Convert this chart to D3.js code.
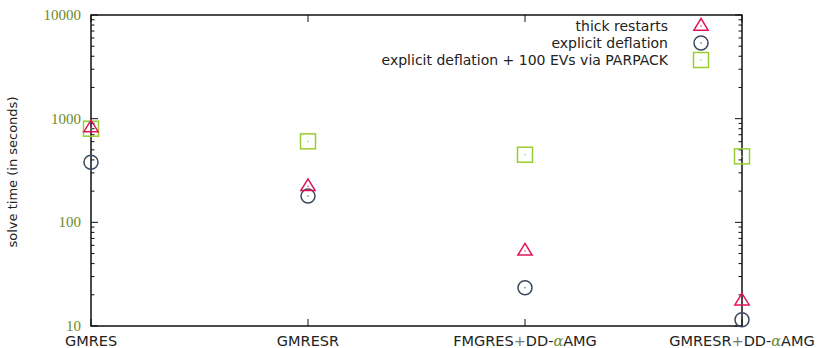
<!DOCTYPE html>
<html>
<head>
<meta charset="utf-8">
<script src="https://cdn.jsdelivr.net/npm/d3@7"></script>
<style>
  html, body { margin: 0; padding: 0; background: #fff; }
  svg { display: block; }
</style>
</head>
<body>
<svg id="chart" width="819" height="348"></svg>
<script>
// Solvers compared on the x axis
const solvers = ["GMRES", "GMRESR", "FMGRES+DD-αAMG", "GMRESR+DD-αAMG"];

// Solve times in seconds for each deflation strategy
const thickRestarts = [820, 222, 53, 17.5];
const explicitDeflation = [380, 179, 23.4, 11.5];
const explicitDeflationParpack = [800, 604, 449, 433];

const seriesNames = [
  "thick restarts",
  "explicit deflation",
  "explicit deflation + 100 EVs via PARPACK"
];

const yTicks = [10, 100, 1000, 10000];

const svg = d3.select("#chart");
const plotL = 91, plotR = 742, plotT = 15, plotB = 326;

const x = d3.scalePoint().domain(solvers).range([plotL, plotR]);
const y = d3.scaleLog().domain([10, 10000]).range([plotB, plotT]);

const tickColor = "#6b8a2a";
const axisColor = "#111";

// minor ticks for 2..9 in each decade
const minorTicks = [];
for (let d = 10; d < 10000; d *= 10) {
  for (let k = 2; k <= 9; k++) minorTicks.push(d * k);
}

// frame
svg.append("rect")
  .attr("x", plotL).attr("y", plotT)
  .attr("width", plotR - plotL).attr("height", plotB - plotT)
  .attr("fill", "none").attr("stroke", axisColor).attr("stroke-width", 1.5);

const ticks = svg.append("g").attr("stroke", axisColor).attr("stroke-width", 1);

// left and right, inward ticks
[[plotL, 1], [plotR, -1]].forEach(([xp, dir]) => {
  ticks.selectAll(null).data(yTicks).enter().append("line")
    .attr("x1", xp).attr("x2", xp + dir * 7)
    .attr("y1", d => y(d)).attr("y2", d => y(d));
  ticks.selectAll(null).data(minorTicks).enter().append("line")
    .attr("x1", xp).attr("x2", xp + dir * 3.5)
    .attr("y1", d => y(d)).attr("y2", d => y(d));
});

// bottom and top, inward ticks
[[plotB, -1], [plotT, 1]].forEach(([yp, dir]) => {
  ticks.selectAll(null).data(solvers).enter().append("line")
    .attr("x1", d => x(d)).attr("x2", d => x(d))
    .attr("y1", yp).attr("y2", yp + dir * 7);
});

// y tick labels
svg.append("g").selectAll("text").data(yTicks).enter().append("text")
  .attr("x", plotL - 10).attr("y", d => y(d) + 5)
  .attr("text-anchor", "end")
  .attr("font-family", "'Liberation Serif', 'DejaVu Serif', serif")
  .attr("font-size", 15)
  .attr("fill", tickColor)
  .text(d => d);

// x tick labels, with the "+" in grey and the alpha in olive italic
const xl = svg.append("g").selectAll("text").data(solvers).enter().append("text")
  .attr("x", d => x(d)).attr("y", 346)
  .attr("text-anchor", "middle")
  .attr("font-family", "'DejaVu Sans', sans-serif")
  .attr("font-size", 14.5)
  .attr("fill", "#222");
xl.each(function(d) {
  const t = d3.select(this);
  const parts = d.split(/(\+|α)/).filter(s => s.length);
  parts.forEach(p => {
    const s = t.append("tspan").text(p);
    if (p === "+") s.attr("fill", "#777");
    if (p === "α") s.attr("fill", tickColor).attr("font-style", "italic")
      .attr("font-family", "'DejaVu Serif', serif");
  });
});

// y axis title
svg.append("text")
  .attr("transform", "translate(17,172) rotate(-90)")
  .attr("text-anchor", "middle")
  .attr("font-family", "'DejaVu Sans', sans-serif")
  .attr("font-size", 13)
  .attr("fill", "#222")
  .text("solve time (in seconds)");

// marker drawers
const colors = ["#e0145a", "#3b4a5e", "#9acd32"];

function triangle(g, cx, cy, c) {
  const r = 7.5;
  g.append("path")
    .attr("d", `M${cx},${cy - r} L${cx + r * 0.95},${cy + r * 0.55} L${cx - r * 0.95},${cy + r * 0.55} Z`)
    .attr("fill", "none").attr("stroke", c).attr("stroke-width", 1.5);
  g.append("rect").attr("x", cx - 0.6).attr("y", cy - 0.6).attr("width", 1.2).attr("height", 1.2).attr("fill", c);
}
function circle(g, cx, cy, c) {
  g.append("circle").attr("cx", cx).attr("cy", cy).attr("r", 7)
    .attr("fill", "none").attr("stroke", c).attr("stroke-width", 1.5);
  g.append("rect").attr("x", cx - 0.6).attr("y", cy - 0.6).attr("width", 1.2).attr("height", 1.2).attr("fill", c);
}
function square(g, cx, cy, c) {
  g.append("rect").attr("x", cx - 7.5).attr("y", cy - 7.5).attr("width", 15).attr("height", 15)
    .attr("fill", "none").attr("stroke", c).attr("stroke-width", 1.5);
  g.append("rect").attr("x", cx - 0.6).attr("y", cy - 0.6).attr("width", 1.2).attr("height", 1.2).attr("fill", c);
}
const drawers = [triangle, circle, square];
const allSeries = [thickRestarts, explicitDeflation, explicitDeflationParpack];

// points: squares first, then circles, then triangles on top
const pts = svg.append("g");
[2, 1, 0].forEach(si => {
  allSeries[si].forEach((v, i) => {
    drawers[si](pts, x(solvers[i]), y(v), colors[si]);
  });
});

// legend
const legend = svg.append("g");
const legendY = [26, 43, 60];
seriesNames.forEach((name, i) => {
  legend.append("text")
    .attr("x", 668).attr("y", legendY[i] + 4.5)
    .attr("text-anchor", "end")
    .attr("font-family", "'DejaVu Sans', sans-serif")
    .attr("font-size", 14)
    .attr("fill", "#222")
    .text(name);
  drawers[i](legend, 701, legendY[i], colors[i]);
});
</script>
</body>
</html>
